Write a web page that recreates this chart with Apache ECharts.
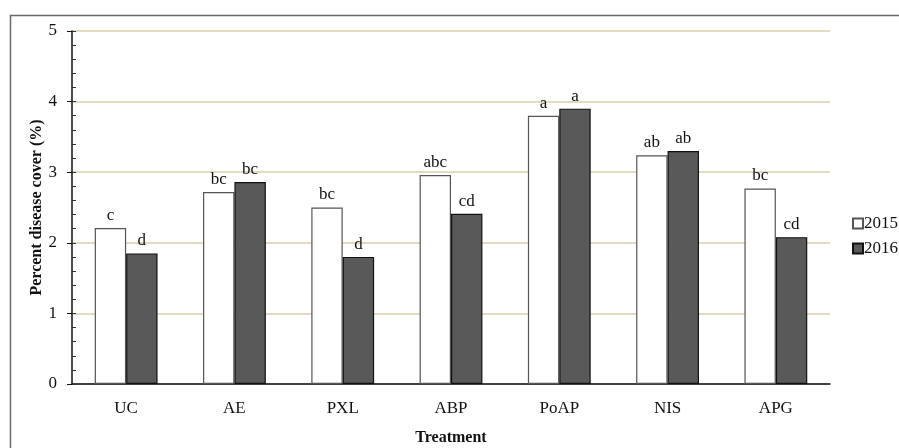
<!DOCTYPE html>
<html>
<head>
<meta charset="utf-8">
<script src="https://cdn.jsdelivr.net/npm/echarts@6/dist/echarts.min.js"></script>
<style>
  html, body { margin: 0; padding: 0; background: #fff; }
  #chart { width: 899px; height: 448px; }
</style>
</head>
<body>
<div id="chart"></div>
<script>
// Treatments and mean percent disease cover per year
const categories = ['UC', 'AE', 'PXL', 'ABP', 'PoAP', 'NIS', 'APG'];
const values2015 = [2.21, 2.72, 2.50, 2.96, 3.80, 3.24, 2.77];
const values2016 = [1.85, 2.86, 1.80, 2.41, 3.90, 3.30, 2.08];
// Mean-separation letters shown above each bar
const letters2015 = ['c', 'bc', 'bc', 'abc', 'a', 'ab', 'bc'];
const letters2016 = ['d', 'bc', 'd', 'cd', 'a', 'ab', 'cd'];
const yTicks = [0, 1, 2, 3, 4, 5];

const serif = '"Liberation Serif", "DejaVu Serif", serif';
const chart = echarts.init(document.getElementById('chart'), null, { renderer: 'canvas' });

function letterLabel(letters) {
  return {
    show: true,
    position: 'top',
    distance: 4,
    fontFamily: serif,
    fontSize: 17,
    color: '#111',
    formatter: p => letters[p.dataIndex]
  };
}

chart.setOption({
  animation: false,
  backgroundColor: '#fff',
  graphic: [{
    type: 'rect',
    shape: { x: 10.5, y: 15.5, width: 900, height: 450 },
    style: { fill: 'none', stroke: '#6a6a6a', lineWidth: 1.5 },
    z: 0
  }],
  grid: { left: 72, right: 69, top: 31, bottom: 64, outerBoundsMode: 'none' },
  legend: {
    orient: 'vertical',
    left: 847,
    top: 210,
    itemWidth: 10,
    itemHeight: 10,
    itemGap: 8,
    icon: 'rect',
    textStyle: { fontFamily: serif, fontSize: 17, color: '#111', padding: [0, 0, 0, -4] },
    data: ['2015', '2016']
  },
  xAxis: {
    type: 'category',
    data: categories,
    name: 'Treatment',
    nameLocation: 'middle',
    nameGap: 46,
    nameMoveOverlap: false,
    nameTextStyle: { fontFamily: serif, fontSize: 16, fontWeight: 'bold', color: '#111' },
    axisLine: { lineStyle: { color: '#111', width: 1.5 } },
    axisTick: { inside: true, length: 4, lineStyle: { color: '#333' } },
    axisLabel: { fontFamily: serif, fontSize: 17, color: '#111', margin: 16 }
  },
  yAxis: [{
    type: 'value',
    min: yTicks[0],
    max: yTicks[yTicks.length - 1],
    interval: 1,
    name: 'Percent disease cover (%)',
    nameLocation: 'middle',
    nameGap: 27,
    nameMoveOverlap: false,
    nameTextStyle: { fontFamily: serif, fontSize: 16, fontWeight: 'bold', color: '#111' },
    axisLine: { show: true, lineStyle: { color: '#111', width: 1.5 } },
    axisTick: { show: true, length: 5, lineStyle: { color: '#111' } },
    axisLabel: { fontFamily: serif, fontSize: 17, color: '#111', margin: 15 },
    splitLine: { show: true, lineStyle: { color: '#d8cfae', width: 1.5 } }
  }, {
    // minor ticks pointing into the plot
    type: 'value',
    position: 'left',
    min: yTicks[0],
    max: yTicks[yTicks.length - 1],
    interval: 0.2,
    axisLine: { show: false },
    axisTick: { show: true, inside: true, length: 4, lineStyle: { color: '#333' } },
    axisLabel: { show: false },
    splitLine: { show: false }
  }],
  series: [{
    name: '2015',
    type: 'bar',
    data: values2015,
    barGap: '0%',
    barCategoryGap: '42%',
    itemStyle: { color: '#ffffff', borderColor: '#555', borderWidth: 1.2 },
    label: letterLabel(letters2015)
  }, {
    name: '2016',
    type: 'bar',
    data: values2016,
    itemStyle: { color: '#595959', borderColor: '#111', borderWidth: 1.2 },
    label: letterLabel(letters2016)
  }]
});
</script>
</body>
</html>
